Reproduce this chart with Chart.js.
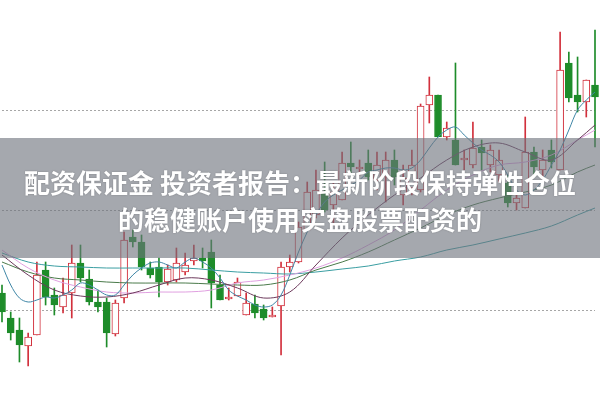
<!DOCTYPE html>
<html>
<head>
<meta charset="utf-8">
<script src="https://cdn.jsdelivr.net/npm/chart.js@4/dist/chart.umd.min.js"></script>
<style>
body{margin:0;background:#fff;}
#wrap{position:relative;width:600px;height:399px;overflow:hidden;}
#banner{
position:absolute;left:0;top:138px;width:600px;height:120px;
background:rgba(110,115,125,0.62);
color:#fff;text-align:center;
font-family:"Noto Sans CJK SC","Noto Sans",sans-serif;
font-weight:700;font-size:26px;line-height:37px;
padding-top:25px;box-sizing:border-box;
text-shadow:0 0 2px rgba(0,0,0,0.25);
}
</style>
</head>
<body>
<div id="wrap">
<canvas id="kChart" width="600" height="399"></canvas>
<div id="banner">配资保证金 投资者报告：最新阶段保持弹性仓位<br>的稳健账户使用实盘股票配资的</div>
</div>
<script>

// ------------------------------
// Candle data
// ------------------------------

const openV = [11.7,9.2,8.0,6.4,7.5,14.0,11.5,10.3,11.7,14.7,
13.1,10.8,10.8,7.6,11.2,17.3,16.8,14.2,14.3,12.8,
13.0,13.8,14.9,15.2,15.8,12.5,11.1,11.4,9.5,10.6,
10.1,9.3,10.4,14.3,14.8,18.0,19.5,21.7,20.5,21.0,
24.7,24.1,24.7,23.0,23.3,25.0,21.5,22.2,22.0,30.5,
31.5,27.3,27.0,25.0,24.5,26.3,24.5,23.5,22.7,20.7,
20.2,25.8,24.0,26.0,24.0,34.7,31.5,30.8,32.5];

const closeV = [9.8,7.7,6.5,7.3,13.5,11.3,10.5,11.5,14.7,13.2,
10.8,10.3,7.7,10.7,17.0,16.8,14.3,13.5,12.8,14.1,
14.7,14.5,15.2,14.9,12.7,11.0,11.3,12.8,10.7,9.7,
9.2,9.5,14.3,14.8,18.3,21.8,22.0,20.0,21.8,24.7,
24.3,24.3,23.3,24.5,25.0,23.3,23.2,24.5,30.4,31.5,
27.3,28.2,24.5,25.2,26.2,25.7,26.0,25.0,20.7,21.2,
25.8,24.3,25.0,24.8,34.0,31.2,30.8,33.0,31.3];

const highV = [12.5,9.8,9.2,7.7,14.8,14.8,12.2,13.2,16.5,16.5,
14.0,12.0,11.2,11.0,17.8,18.0,17.5,14.8,15.2,14.5,
16.2,15.7,16.5,16.2,17.0,13.5,12.2,13.2,11.7,11.5,
10.5,10.3,14.8,15.5,18.8,22.8,24.0,24.8,22.8,25.8,
26.8,25.0,26.0,25.8,25.8,26.0,24.5,26.0,30.6,33.3,
31.5,28.8,34.7,26.0,28.8,27.0,26.5,26.0,23.5,21.7,
29.3,26.3,26.0,27.0,37.8,35.8,35.3,33.0,38.0];

const lowV = [8.8,7.0,4.8,4.4,7.5,10.5,9.5,9.7,9.2,12.8,
10.5,9.8,6.3,7.4,10.7,16.3,14.0,13.2,11.3,12.5,
12.8,13.5,14.5,14.2,10.2,11.0,11.0,11.4,9.5,9.2,
9.0,9.3,5.5,13.8,14.7,18.0,19.2,19.8,18.5,21.0,
23.7,23.5,23.0,22.0,20.8,22.5,20.5,21.5,21.8,28.7,
27.3,27.0,24.5,24.0,24.2,24.0,23.8,22.8,20.3,20.0,
20.2,23.3,23.0,24.2,24.0,30.8,29.8,29.3,26.3];

// moving average lines
const ma5 = [14.5,12.5,11.2,10.8,11.0,11.3,11.2,11.5,12.0,12.7,
12.5,12.0,11.5,11.5,12.5,13.5,14.2,14.7,14.8,14.5,
14.2,14.8,15.2,14.8,14.2,13.2,12.0,11.4,11.0,10.5,
10.3,10.5,11.5,13.5,15.8,17.8,19.5,20.8,21.5,22.0,
22.5,23.0,23.8,24.0,24.2,24.2,24.0,24.2,25.0,26.2,
27.3,28.0,28.3,27.5,26.7,26.0,25.5,24.8,23.5,22.0,
21.5,22.0,23.0,24.5,26.0,28.0,30.0,31.0,31.8];

// slower lines read every third candle
const maIdx = [0,3,6,9,12,15,18,21,24,27,30,33,36,39,42,45,48,51,54,57,60,63,66,68];
const ma10 = [15.5,13.5,12.0,11.4,11.3,11.7,12.5,13.2,13.0,12.2,11.2,11.8,14.5,17.2,19.5,21.5,23.2,25.0,26.3,26.7,25.8,25.0,27.0,28.5];
const ma20 = [16.0,14.2,13.0,12.3,11.8,11.7,11.8,11.8,12.0,12.7,13.0,13.5,14.2,15.2,16.5,18.0,20.0,22.0,23.5,24.5,24.8,25.5,27.0,28.0];
const ma30 = [14.8,13.8,13.2,13.0,12.8,12.7,12.7,12.7,12.6,12.5,12.5,13.0,14.0,14.8,15.8,17.0,18.2,19.5,20.5,21.2,21.8,22.5,23.8,24.5];
const ma60 = [15.7,14.8,14.4,14.3,14.2,14.2,14.2,14.2,14.0,13.8,13.7,13.6,13.8,14.1,14.4,14.9,15.3,16.0,16.5,17.1,17.7,18.4,19.5,20.2];

const gridValues = [10,20,30,40];

// ------------------------------
// Build datasets
// ------------------------------

const RED = "#d2303c";
const GREEN = "#1e8c2a";

const labels = openV.map((v,i)=>i);

const bodies = openV.map((o,i)=>[o, closeV[i]]);
const wicks = lowV.map((l,i)=>[l, highV[i]]);

const isUp = openV.map((o,i)=>closeV[i] >= o);

function sparse(vals){
    const arr = labels.map(()=>null);
    maIdx.forEach((idx,k)=>{ arr[idx] = vals[k]; });
    return arr;
}

function maLine(data,color){
    return {
        type:"line",
        data:data,
        borderColor:color,
        borderWidth:1,
        pointRadius:0,
        tension:0.35,
        spanGaps:true,
        order:0,
        clip:false
    };
}

const chart = new Chart(

document.getElementById("kChart"),

{

type:"bar",

data:{

labels:labels,

datasets:[

{
data:wicks,
backgroundColor:isUp.map(u=>u ? RED : GREEN),
borderWidth:0,
barThickness:1,
grouped:false,
order:2,
clip:false
},

{
data:bodies,
backgroundColor:isUp.map(u=>u ? "#ffffff" : GREEN),
borderColor:isUp.map(u=>u ? RED : GREEN),
borderWidth:1,
borderSkipped:false,
barThickness:7,
grouped:false,
order:1,
clip:false
},

maLine(ma5,"#3f86a6"),
maLine(sparse(ma10),"#6d3a5c"),
maLine(sparse(ma20),"#e0a0e0"),
maLine(sparse(ma30),"#4a7a4a"),
maLine(sparse(ma60),"#3a9ea2")

]

},

options:{

responsive:false,
animation:false,

layout:{
padding:{left:2,right:5,top:0,bottom:0}
},

plugins:{
legend:{display:false},
tooltip:{enabled:false}
},

scales:{

x:{
display:false,
offset:false
},

y:{
min:1.1,
max:41,
ticks:{display:false,stepSize:10},
border:{display:false,dash:[2,2]},
grid:{
drawTicks:false,
lineWidth:1,
color:ctx => gridValues.includes(ctx.tick.value) ? "#a6a6a6" : "rgba(0,0,0,0)"
}
}

}

}

});

</script>
</body>
</html>
